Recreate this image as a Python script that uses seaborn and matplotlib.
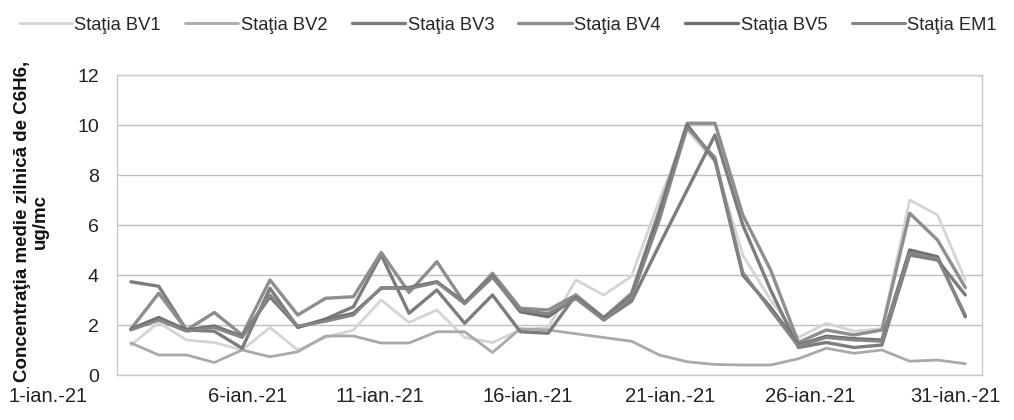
import numpy as np
import pandas as pd
import matplotlib
matplotlib.use("Agg")
import matplotlib.pyplot as plt
import matplotlib.transforms as mtransforms
import seaborn as sns

days = list(range(1, 32))
tick_days = [1, 6, 11, 16, 21, 26, 31]
tick_labels = ["1-ian.-21", "6-ian.-21", "11-ian.-21", "16-ian.-21",
               "21-ian.-21", "26-ian.-21", "31-ian.-21"]
series_names = ["Staţia BV1", "Staţia BV2", "Staţia BV3", "Staţia BV4",
                "Staţia BV5", "Staţia EM1"]

bv1 = [1.2, 2.1, 1.4, 1.3, 1.0, 1.9, 1.0, 1.5, 1.8, 3.0, 2.1, 2.6, 1.5, 1.3, 1.8, 1.9,
       3.8, 3.2, 3.95, 7.0, 9.8, 8.5, 4.8, 3.0, 1.5, 2.07, 1.75, 1.85, 7.0, 6.4, 3.8]
bv2 = [1.28, 0.8, 0.8, 0.5, 1.0, 0.73, 0.93, 1.56, 1.56, 1.28, 1.28, 1.73, 1.73, 0.9, 1.85, 1.8,
       1.65, 1.5, 1.35, 0.8, 0.53, 0.42, 0.4, 0.4, 0.65, 1.07, 0.87, 1.0, 0.55, 0.6, 0.45]
bv3 = [3.73, 3.55, 1.8, 1.75, 1.07, 3.47, 1.9, 2.24, 2.73, 4.8, 2.47, 3.4, 2.07, 3.2, 1.73, 1.67,
       3.2, 2.2, 2.95, 5.2, 7.4, 9.6, 6.0, 3.4, 1.1, 1.3, 1.1, 1.2, 4.8, 4.6, 3.2]
bv4 = [1.84, 3.27, 1.8, 2.5, 1.6, 3.8, 2.4, 3.07, 3.13, 4.9, 3.3, 4.53, 2.87, 4.07, 2.67, 2.6,
       3.2, 2.3, 3.27, 6.6, 10.07, 10.07, 6.4, 4.2, 1.3, 1.8, 1.6, 1.8, 6.47, 5.4, 3.5]
bv5 = [1.84, 2.3, 1.8, 1.96, 1.55, 3.13, 1.93, 2.2, 2.47, 3.47, 3.5, 3.73, 2.9, 3.95, 2.53, 2.33,
       3.1, 2.25, 3.15, 6.4, 10.0, 8.6, 4.0, 2.7, 1.2, 1.55, 1.45, 1.4, 5.0, 4.73, 2.33]
em1 = [1.8, 2.2, 1.75, 1.9, 1.5, 3.2, 1.95, 2.15, 2.4, 3.5, 3.45, 3.7, 2.85, 3.9, 2.6, 2.45,
       3.05, 2.2, 3.1, 6.2, 9.9, 8.7, 4.1, 2.6, 1.15, 1.5, 1.4, 1.35, 4.9, 4.65, 2.4]

values = [bv1, bv2, bv3, bv4, bv5, em1]
colors = ["#d4d4d4", "#a9a9a9", "#7c7c7c", "#8e8e8e", "#6f6f6f", "#858585"]
widths = [2.0, 2.0, 2.4, 2.4, 2.4, 2.2]

sns.set_theme(style="white")
plt.rcParams['font.family'] = ['Liberation Sans', 'DejaVu Sans']

fig = plt.figure(figsize=(10.14, 4.2), dpi=100)
ax = fig.add_axes([117/1014, 1-375/420, (982-117)/1014, 300/420])

for name, vals, c, w in zip(series_names, values, colors, widths):
    df = pd.DataFrame({"day": days, "val": vals})
    sns.lineplot(data=df, x="day", y="val", ax=ax, color=c, linewidth=w, label=name,
                 legend=False)

ax.set_xlim(0.5, 31.6)
ax.set_ylim(0, 12)
ax.set_yticks(range(0, 13, 2))
ax.yaxis.grid(True, color="#bdbdbd", linewidth=1.0)
ax.xaxis.grid(False)
for s in ["left", "right", "top", "bottom"]:
    ax.spines[s].set_visible(True)
    ax.spines[s].set_color("#c8c8c8")
    ax.spines[s].set_linewidth(1.0)

ax.set_xticks([d - 0.5 for d in tick_days])
ax.set_xticklabels(tick_labels)
ax.tick_params(axis="x", length=4, color="#bbbbbb", direction="out", pad=5,
               labelsize=14.5, labelcolor="#222222")
ax.tick_params(axis="y", length=4, color="#bbbbbb", direction="out", pad=9,
               labelsize=14, labelcolor="#222222")
ax.set_xlabel("")
ax.set_ylabel("")

# shift x tick labels slightly as in the reference
offsets_px = [-69, -8, -15, -7, -3, -2, 4]
for lab, off in zip(ax.get_xticklabels(), offsets_px):
    lab.set_transform(lab.get_transform() +
                      mtransforms.ScaledTranslation(off/100, 0, fig.dpi_scale_trans))

fig.text(0.031, 0.472, "Concentraţia medie zilnică de C6H6,\nug/mc", rotation=90,
         ha="center", va="center", fontsize=13.5, fontweight="bold",
         multialignment="center", color="#111111", linespacing=1.05)

handles, labels = ax.get_legend_handles_labels()
fig.legend(handles, labels, loc="upper left", bbox_to_anchor=(2/1014, 1.0),
           ncol=6, frameon=False, fontsize=13.2, handlelength=2.9, handletextpad=0.15,
           columnspacing=1.32)

fig.savefig("out.png", dpi=100)
